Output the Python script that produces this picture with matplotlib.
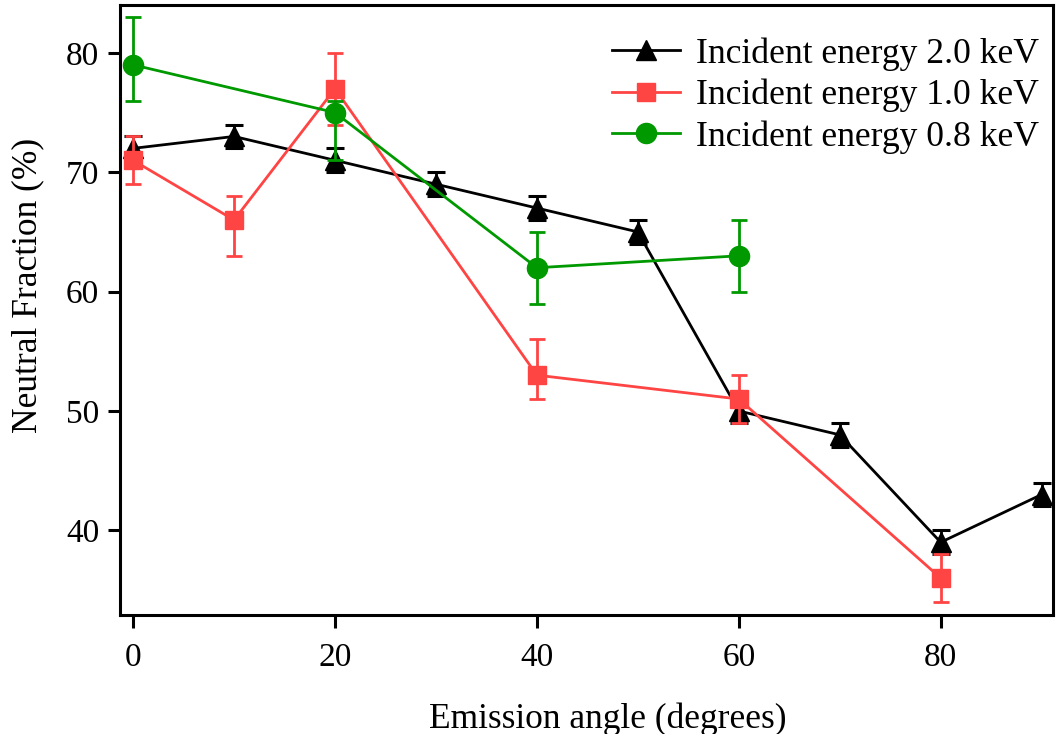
import numpy as np
import matplotlib
matplotlib.use('Agg')
import matplotlib.pyplot as plt

plt.rcParams['font.family'] = ['Liberation Serif', 'DejaVu Serif']

# 2.0 keV
angle_20 = [0, 10, 20, 30, 40, 50, 60, 70, 80, 90]
frac_20 = [72, 73, 71, 69, 67, 65, 50, 48, 39, 43]
err_20_lo = [1, 1, 1, 1, 1, 1, 1, 1, 1, 1]
err_20_hi = [1, 1, 1, 1, 1, 1, 1, 1, 1, 1]

# 1.0 keV
angle_10 = [0, 10, 20, 40, 60, 80]
frac_10 = [71, 66, 77, 53, 51, 36]
err_10_lo = [2, 3, 3, 2, 2, 2]
err_10_hi = [2, 2, 3, 3, 2, 2]

# 0.8 keV
angle_08 = [0, 20, 40, 60]
frac_08 = [79, 75, 62, 63]
err_08_lo = [3, 4, 3, 3]
err_08_hi = [4, 1, 3, 3]

labels = ['Incident energy 2.0 keV', 'Incident energy 1.0 keV', 'Incident energy 0.8 keV']

fig = plt.figure(figsize=(10.57, 7.34), dpi=100)
ax = fig.add_axes([0.1135, 0.162, 0.8825, 0.831])

ax.errorbar(angle_20, frac_20, yerr=[err_20_lo, err_20_hi], color='black', marker='^',
            markersize=15, linewidth=2.0, elinewidth=2.0, capsize=6.5, capthick=2.2,
            label=labels[0], zorder=2)
ax.errorbar(angle_10, frac_10, yerr=[err_10_lo, err_10_hi], color='#FF4444', marker='s',
            markersize=13, linewidth=2.0, elinewidth=2.0, capsize=5.5, capthick=2.0,
            label=labels[1], zorder=3)
ax.errorbar(angle_08, frac_08, yerr=[err_08_lo, err_08_hi], color='#009900', marker='o',
            markersize=14.5, linewidth=2.0, elinewidth=2.0, capsize=5.5, capthick=2.0,
            label=labels[2], zorder=4)

ax.set_xlim(-1.3, 91.1)
ax.set_ylim(32.9, 84.0)
ax.set_xticks([0, 20, 40, 60, 80])
ax.set_yticks([40, 50, 60, 70, 80])

for s in ax.spines.values():
    s.set_linewidth(2.2)
ax.tick_params(axis='both', direction='out', length=9, width=2.2, labelsize=24)
ax.tick_params(axis='x', pad=11)
ax.tick_params(axis='y', pad=6)

ax.set_xlabel('Emission angle (degrees)', fontsize=25.5)
ax.set_ylabel('Neutral Fraction (%)', fontsize=25.5)
ax.xaxis.set_label_coords(0.523, -0.143)
ax.yaxis.set_label_coords(-0.081, 0.54)

handles, lbls = ax.get_legend_handles_labels()
handles = [h[0] for h in handles]
ax.legend(handles, lbls, loc='upper right', bbox_to_anchor=(1.004, 0.977),
          frameon=False, fontsize=25.7,
          handlelength=1.9, handletextpad=0.45, labelspacing=0.23,
          borderaxespad=0.3, borderpad=0.2)

fig.savefig('out.png', dpi=100)
